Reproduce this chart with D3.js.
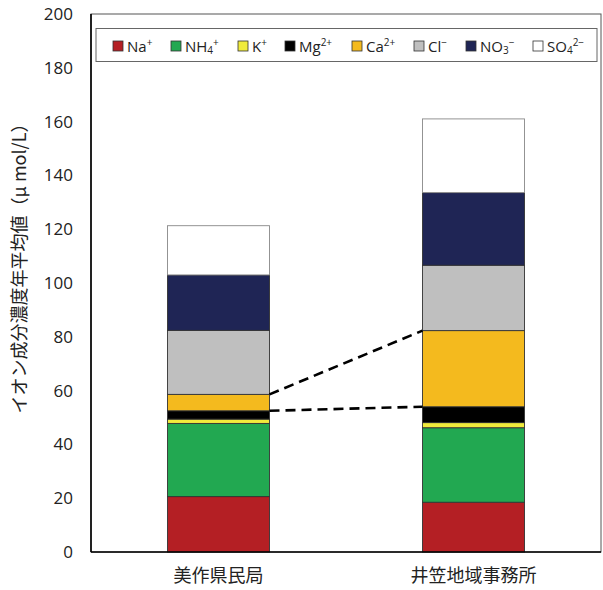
<!DOCTYPE html>
<html><head><meta charset="utf-8">
<script src="https://cdn.jsdelivr.net/npm/d3@7"></script>
<style>
body{margin:0;background:#fff;}
text{font-family:"Noto Sans CJK JP","Noto Sans",sans-serif;fill:#222;}
</style></head>
<body><svg id="c" width="603" height="590"></svg>
<script>
const categories = ["美作県民局", "井笠地域事務所"];
const ions = ["Na", "NH4", "K", "Mg", "Ca", "Cl", "NO3", "SO4"];
const Na  = [20.6, 18.5];
const NH4 = [27.2, 27.7];
const K   = [1.6, 1.9];
const Mg  = [3.1, 5.9];
const Ca  = [6.1, 28.3];
const Cl  = [23.8, 24.3];
const NO3 = [20.6, 27.0];
const SO4 = [18.3, 27.4];
const yTicks = [0, 20, 40, 60, 80, 100, 120, 140, 160, 180, 200];
const colors = ["#B41F24", "#22A851", "#F0EB3C", "#000000", "#F4BA1E", "#BFBFBF", "#1F2555", "#FFFFFF"];
const legendLabels = [
  [["Na",""],["+","sup"]],
  [["NH",""],["4","sub"],["+","sup"]],
  [["K",""],["+","sup"]],
  [["Mg",""],["2+","sup"]],
  [["Ca",""],["2+","sup"]],
  [["Cl",""],["−","sup"]],
  [["NO",""],["3","sub"],["−","sup"]],
  [["SO",""],["4","sub"],["2−","sup"]]
];
const legendX = [113, 171, 238, 285, 352, 414, 466, 533];

const seriesVals = [Na, NH4, K, Mg, Ca, Cl, NO3, SO4];
const rows = categories.map((c, i) => {
  const r = {cat: c};
  ions.forEach((k, j) => r[k] = seriesVals[j][i]);
  return r;
});
const stack = d3.stack().keys(ions)(rows);

const svg = d3.select("#c");
const m = {l: 91, r: 601, t: 14, b: 552};
const x = d3.scaleBand().domain(categories).range([m.l, m.r]).paddingInner(0.6).paddingOuter(0.3);
const y = d3.scaleLinear().domain([0, 200]).range([m.b, m.t]);

// frame
svg.append("rect").attr("x", m.l).attr("y", m.t).attr("width", m.r - m.l).attr("height", m.b - m.t)
  .attr("fill", "none").attr("stroke", "#555").attr("stroke-width", 1);

// bars
stack.forEach((s, j) => {
  svg.append("g").selectAll("rect").data(s).join("rect")
    .attr("x", d => x(d.data.cat))
    .attr("width", x.bandwidth())
    .attr("y", d => y(d[1]))
    .attr("height", d => y(d[0]) - y(d[1]))
    .attr("fill", colors[j])
    .attr("stroke", j === 7 ? "#888" : "#333")
    .attr("stroke-width", 0.9);
});

// dashed series lines (Mg top, Ca top)
[3, 4].forEach(j => {
  const s = stack[j];
  svg.append("line")
    .attr("x1", x(categories[0]) + x.bandwidth()).attr("y1", y(s[0][1]))
    .attr("x2", x(categories[1])).attr("y2", y(s[1][1]))
    .attr("stroke", "#000").attr("stroke-width", 2.6).attr("stroke-dasharray", "10,6");
});

// axes lines
svg.append("line").attr("x1", m.l).attr("x2", m.l).attr("y1", m.t).attr("y2", m.b).attr("stroke", "#000").attr("stroke-width", 1.6);
svg.append("line").attr("x1", m.l).attr("x2", m.r).attr("y1", m.b).attr("y2", m.b).attr("stroke", "#000").attr("stroke-width", 1.6);

// y axis labels
const yAxis = d3.axisLeft(y).tickValues(yTicks).tickSize(0).tickPadding(18);
const gy = svg.append("g").attr("transform", `translate(${m.l},0)`).call(yAxis);
gy.select(".domain").remove();
gy.selectAll("text").style("font-size", "17px").attr("fill", "#222")
  .style("font-family", '"Open Sans","Noto Sans",sans-serif');

// x axis labels
const xAxis = d3.axisBottom(x).tickSize(0).tickPadding(17);
const gx = svg.append("g").attr("transform", `translate(0,${m.b})`).call(xAxis);
gx.select(".domain").remove();
gx.selectAll("text").style("font-size", "18px").attr("fill", "#222");

// y title
svg.append("text").attr("transform", "translate(26,264) rotate(-90)")
  .attr("text-anchor", "middle").style("font-size", "18px")
  .text("イオン成分濃度年平均値（μ mol/L）");

// legend
svg.append("rect").attr("x", 96).attr("y", 28.5).attr("width", 501).attr("height", 33)
  .attr("fill", "#fff").attr("stroke", "#666").attr("stroke-width", 1);
const lg = svg.append("g");
legendLabels.forEach((parts, j) => {
  const g = lg.append("g").attr("transform", `translate(${legendX[j]},0)`);
  g.append("rect").attr("x", 0).attr("y", 41).attr("width", 10).attr("height", 10)
    .attr("fill", colors[j]).attr("stroke", "#333").attr("stroke-width", 0.8);
  const t = g.append("text").attr("x", 14).attr("y", 51.5)
    .style("font-size", "15px").style("font-family", '"Open Sans","Noto Sans",sans-serif');
  parts.forEach(([s, kind]) => {
    const ts = t.append("tspan").text(s);
    if (kind === "sup") ts.style("font-size", "10px").attr("baseline-shift", "6px");
    if (kind === "sub") ts.style("font-size", "10px").attr("baseline-shift", "-2px");
  });
});
</script></body></html>
